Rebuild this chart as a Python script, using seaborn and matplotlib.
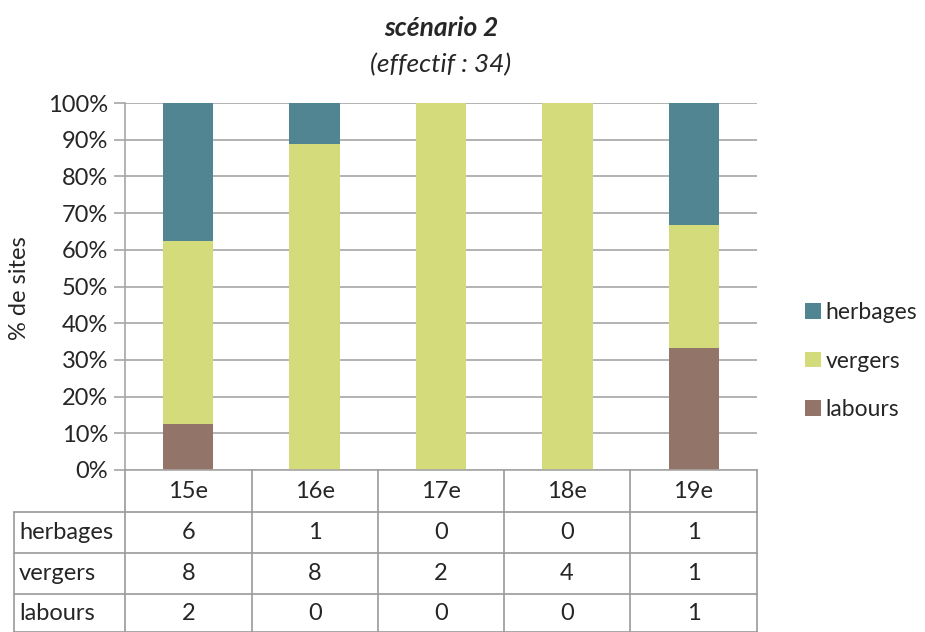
import pandas as pd
import matplotlib
matplotlib.use("Agg")
import matplotlib.pyplot as plt
import seaborn as sns
from matplotlib.lines import Line2D
from matplotlib.patches import Patch

# Data (counts of sites per century)
siecles = ["15e", "16e", "17e", "18e", "19e"]
herbages = [6, 1, 0, 0, 1]
vergers = [8, 8, 2, 4, 1]
labours = [2, 0, 0, 0, 1]
series = ["herbages", "vergers", "labours"]
couleurs = {"herbages": "#528592", "vergers": "#D4DB7A", "labours": "#927468"}

sns.set_style("white")
plt.rcParams["font.family"] = ["Lato", "DejaVu Sans"]
FS = 17

df = pd.DataFrame({"siecle": siecles, "herbages": herbages,
                   "vergers": vergers, "labours": labours})
total = df[series].sum(axis=1)
pct = df[series].div(total, axis=0) * 100

# cumulative tops (labours at the bottom)
df["top_labours"] = pct["labours"]
df["top_vergers"] = df["top_labours"] + pct["vergers"]
df["top_herbages"] = df["top_vergers"] + pct["herbages"]

W, H = 925, 632
GRID = "#A6A6A6"


def fx(px):
    return px / W


def fy(py):
    return 1 - py / H


fig = plt.figure(figsize=(W / 100, H / 100), dpi=100)
x0, x1, y_top, y_bot = 125, 757, 103, 470
ax = fig.add_axes([fx(x0), fy(y_bot), fx(x1 - x0), (y_bot - y_top) / H])

# stacked bars drawn as overlapping cumulative bars
for name in series:
    sns.barplot(data=df, x="siecle", y="top_" + name, color=couleurs[name],
                width=0.4, saturation=1, linewidth=0, ax=ax)

ax.set_ylim(0, 100)
ax.set_xlim(-0.5, 4.5)
ax.set_yticks(range(0, 101, 10))
ax.set_yticklabels([f"{v}%" for v in range(0, 101, 10)], fontsize=FS)
ax.yaxis.grid(True, color=GRID, lw=1.2)
ax.set_axisbelow(True)
ax.tick_params(axis="y", length=8, width=1.2, color=GRID, pad=4, left=True)
ax.tick_params(axis="x", bottom=False, labelbottom=False)
ax.set_xlabel("")
ax.set_ylabel("")
fig.text(fx(20), fy(288), "% de sites", rotation=90, ha="center",
         va="center", fontsize=FS)
for s in ["top", "right"]:
    ax.spines[s].set_visible(False)
for s in ["left", "bottom"]:
    ax.spines[s].set_color(GRID)
    ax.spines[s].set_linewidth(1.2)

# titles
fig.text(fx(441), fy(28), "scénario 2", ha="center", va="center",
         fontsize=19, fontweight="bold", style="italic")
fig.text(fx(441), fy(65), "(effectif : 34)", ha="center", va="center",
         fontsize=19, style="italic")

# legend
handles = [Patch(facecolor=couleurs[n], edgecolor="none") for n in series]
fig.legend(handles, series, loc="center left",
           bbox_to_anchor=(fx(787), fy(361)), frameon=False, fontsize=16.5,
           handlelength=0.68, handleheight=0.68, handletextpad=0.2,
           labelspacing=1.2, borderpad=0.3)

# data table
col_edges = [125, 252, 378, 504, 630, 757]
row_edges = [470, 512, 553, 594, 632]
lc = "#9A9A9A"


def hline(y, xa, xb):
    fig.add_artist(Line2D([fx(xa), fx(xb)], [fy(y), fy(y)], color=lc, lw=1.2))


def vline(x, ya, yb):
    fig.add_artist(Line2D([fx(x), fx(x)], [fy(ya), fy(yb)], color=lc, lw=1.2))


for x in col_edges:
    vline(x, 470, 632)
vline(14, 512, 632)
for y in row_edges[1:]:
    hline(y, 14, 757)

for i, lab in enumerate(siecles):
    cx = (col_edges[i] + col_edges[i + 1]) / 2
    fig.text(fx(cx), fy((row_edges[0] + row_edges[1]) / 2), lab,
             ha="center", va="center", fontsize=FS)
rows = {"herbages": herbages, "vergers": vergers, "labours": labours}
for r, name in enumerate(series):
    cy = (row_edges[r + 1] + row_edges[r + 2]) / 2
    fig.text(fx(19), fy(cy), name, ha="left", va="center", fontsize=FS)
    for i, v in enumerate(rows[name]):
        cx = (col_edges[i] + col_edges[i + 1]) / 2
        fig.text(fx(cx), fy(cy), str(v), ha="center", va="center", fontsize=FS)

fig.savefig("out.png", dpi=100)
